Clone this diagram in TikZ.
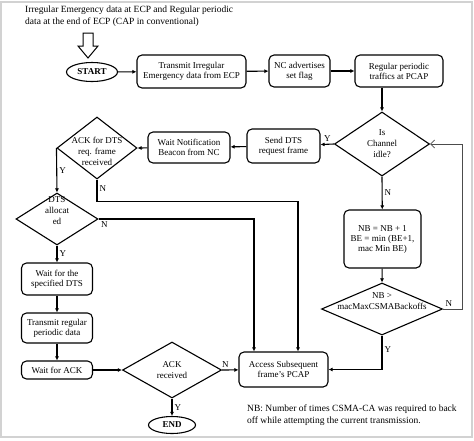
\documentclass[tikz,border=0pt]{standalone}
\usepackage{fontspec}
\setmainfont{Liberation Serif}
\usetikzlibrary{%
    shapes.geometric,%
    arrows.meta%
}

\begin{document}
\begin{tikzpicture}[
    x=1pt,y=-1pt,
    font={\fontsize{9}{10}\selectfont},
    box/.style={draw,line width=1.1pt,rounded corners=5pt,align=center,inner sep=1pt},
    decision/.style={diamond,draw,line width=1.1pt,inner sep=0pt},
    dtext/.style={align=center,font={\fontsize{9}{11}\selectfont}},
    terminal/.style={ellipse,draw,line width=1.1pt,inner sep=0pt,
        font={\fontsize{9}{10}\selectfont\bfseries}},
    flow/.style={line width=1.1pt,-{Latex[length=4pt,width=4pt]}},
    back/.style={line width=0.8pt,draw=black!70,-{Straight Barb[length=4pt,width=8pt]}},
    yn/.style={font={\fontsize{9}{10}\selectfont},inner sep=2pt},
    ]
    \useasboundingbox (0,0) rectangle (474,440);
    % frame
    \draw[gray!35,line width=2pt] (1,2) rectangle (472,437);

    % heading and start
    \node[anchor=west,align=left,inner sep=0pt,font={\fontsize{9.5}{12}\selectfont}] (intro) at (25,16)
        {Irregular Emergency data at ECP and Regular periodic\\data at the end of ECP (CAP in conventional)};
    \draw[line width=1pt] (83,33) -- (93,33) -- (93,46) -- (98,46) -- (88,58)
        -- (78,46) -- (83,46) -- cycle;
    \node[terminal,minimum width=51pt,minimum height=19pt] (start) at (92,72) {START};

    % top row
    \node[box,minimum width=109pt,minimum height=33pt] (tx) at (191.5,71.5)
        {Transmit Irregular\\Emergency data from ECP};
    \node[box,minimum width=61pt,minimum height=32pt] (nc) at (299.5,71) {NC advertises\\set flag};
    \node[box,minimum width=88pt,minimum height=32pt] (reg) at (399,71) {Regular periodic\\traffics at PCAP};

    % channel check
    \node[decision,minimum width=95pt,minimum height=64pt] (idle) at (382,144) {};
    \node[dtext] at (idle) {Is\\Channel\\idle?};
    \node[box,minimum width=73pt,minimum height=34pt] (send) at (283.5,146) {Send DTS\\request frame};
    \node[box,minimum width=82pt,minimum height=31pt] (wait) at (189,147.5)
        {Wait Notification\\Beacon from NC};
    \node[decision,minimum width=80pt,minimum height=62pt] (ackdts) at (97,148) {};
    \node[dtext] at ([yshift=-3pt]ackdts.center) {ACK for DTS\\req. frame\\received};

    % left column
    \node[decision,minimum width=82pt,minimum height=52pt] (dtsalloc) at (57,219) {};
    \node[dtext] at ([yshift=8pt]dtsalloc.center) {DTS\\allocat\\ed};
    \node[box,minimum width=71pt,minimum height=32pt] (waitdts) at (57,279) {Wait for the\\specified DTS};
    \node[box,minimum width=71pt,minimum height=30pt] (txreg) at (57,328) {Transmit regular\\periodic data};
    \node[box,minimum width=71pt,minimum height=18pt] (waitack) at (57,370) {Wait for ACK};
    \node[decision,minimum width=99pt,minimum height=56pt] (ackrcv) at (172,370) {};
    \node[dtext] at (ackrcv) {ACK\\received};
    \node[terminal,minimum width=47pt,minimum height=17pt] (end) at (172,425) {END};
    \node[box,minimum width=89pt,minimum height=35pt] (access) at (283.5,369.5)
        {Access Subsequent\\frame's PCAP};

    % backoff
    \node[box,minimum width=77pt,minimum height=58pt] (nb) at (382.5,239)
        {NB = NB + 1\\BE = min (BE+1,\\mac Min BE)};
    \node[decision,minimum width=121pt,minimum height=52pt] (nbmax) at (382,309) {};
    \node[dtext] at ([yshift=8pt]nbmax.center) {NB >\\macMaxCSMABackoffs};

    % footnote
    \node[anchor=west,align=left,inner sep=0pt,font={\fontsize{9.5}{11.5}\selectfont}] (note) at (247,415)
        {NB: Number of times CSMA-CA was required to back\\off while attempting the current transmission.};

    % connectors
    \draw[flow] (start) -- (tx);
    \draw[flow] (tx) -- (nc);
    \draw[flow] (nc) -- (reg);
    \draw[flow] (reg.south -| idle.north) -- (idle.north);
    \draw[flow] (idle.west) -- node[above,yn]{Y} (send);
    \draw[flow] (send) -- (wait);
    \draw[flow] (wait) -- (ackdts.east);
    \draw[flow] (ackdts.west) -- node[right,yn]{Y} (dtsalloc.north);
    \draw[flow] (ackdts.south) -- node[right,yn,pos=0.4]{N} ++(0,22)
        -| ([xshift=14.5pt]access.north);
    \draw[flow] (dtsalloc.east) node[below right,yn]{N} -| ([xshift=-29.5pt]access.north);
    \draw[flow] (dtsalloc.south) -- node[right,yn]{Y} (waitdts);
    \draw[flow] (waitdts) -- (txreg);
    \draw[flow] (txreg) -- (waitack);
    \draw[flow] (waitack) -- (ackrcv.west);
    \draw[flow] (ackrcv.east) -- node[above,yn,pos=0.2]{N} (access);
    \draw[flow] (ackrcv.south) -- node[right,yn]{Y} (end);
    \draw[flow] (idle.south) -- node[right,yn]{N} (nb);
    \draw[flow] (nb) -- (nbmax.north);
    \draw[flow] (nbmax.south) |- node[right,yn,pos=0.2]{Y} (access.east);
    \draw[back] (nbmax.east) -- node[above,yn,pos=0.3]{N} ++(19,0) |- (idle.east);
\end{tikzpicture}
\end{document}
